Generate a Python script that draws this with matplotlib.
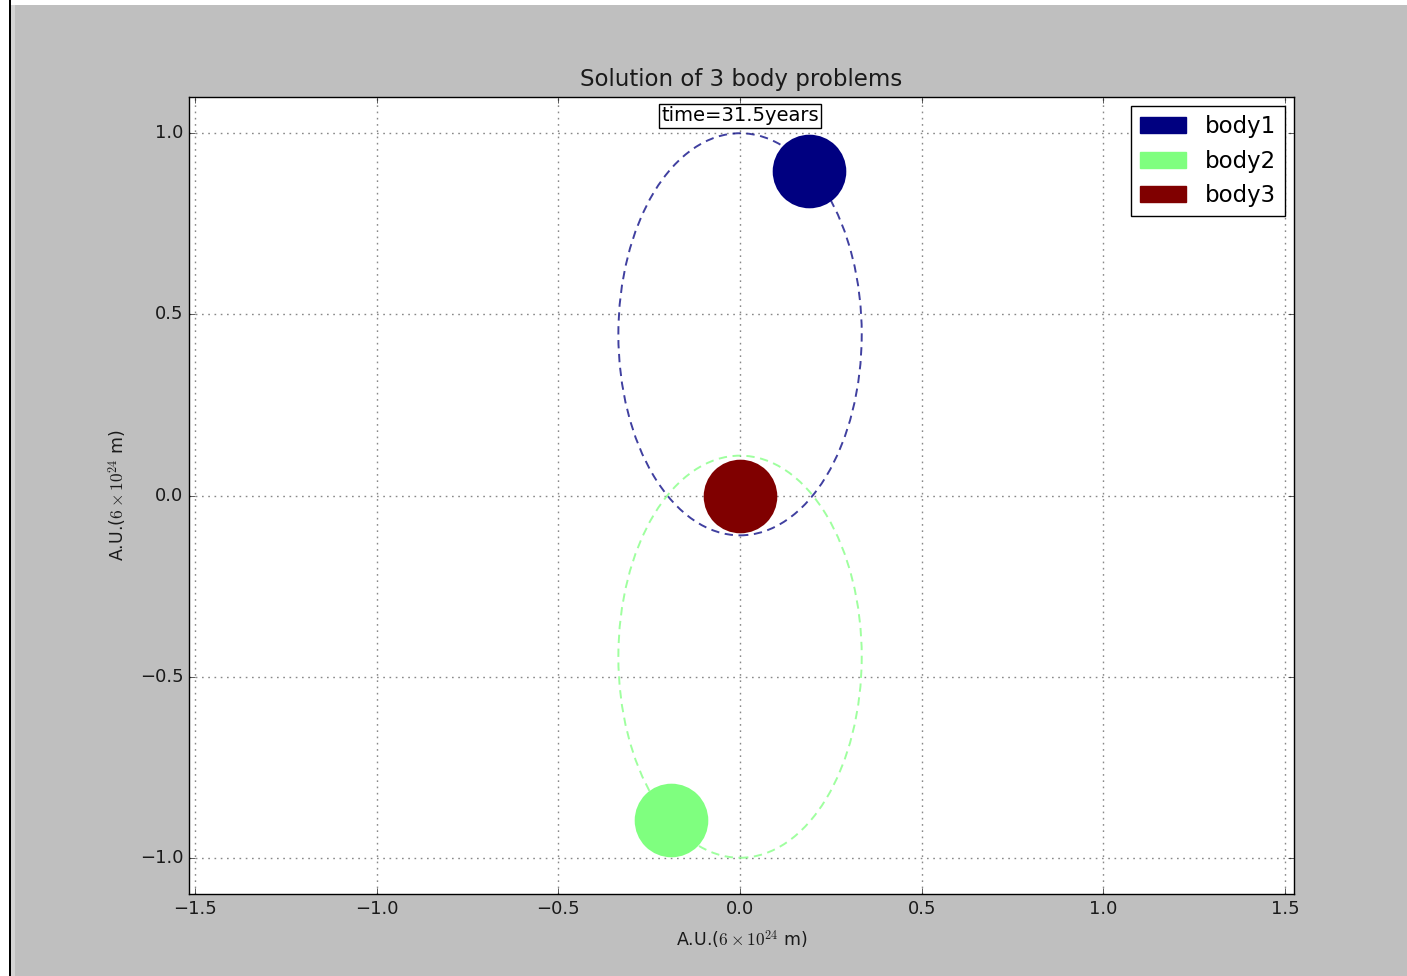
import matplotlib
matplotlib.use("Agg")
import matplotlib.pyplot as plt
from matplotlib.patches import Ellipse, Patch, Rectangle

plt.style.use('classic')
plt.rcParams['mathtext.fontset'] = 'cm'
plt.rcParams['font.family'] = ['DejaVu Sans']

# ---- data ----
bodies = ["body1", "body2", "body3"]
body_colors = ["#000080", "#7fff7f", "#800000"]
body_x = [0.19, -0.19, 0.0]
body_y = [0.895, -0.895, 0.0]
orbit_cx = [0.0, 0.0]
orbit_cy = [0.445, -0.445]
orbit_w = [0.67, 0.67]
orbit_h = [1.11, 1.11]
orbit_colors = ["#000080", "#7fff7f"]
time_years = 31.5
xticks = [-1.5, -1.0, -0.5, 0.0, 0.5, 1.0, 1.5]
yticks = [-1.0, -0.5, 0.0, 0.5, 1.0]

fig = plt.figure(figsize=(14.07, 9.76), dpi=100)
fig.patch.set_facecolor('#bfbfbf')
W, H = 1407, 976
# screenshot frame decorations
fig.patches.append(Rectangle((0, 1 - 5 / H), 1, 5 / H, transform=fig.transFigure, fc='white', ec='none', zorder=-1))
fig.patches.append(Rectangle((0, 0), 9 / W, 1, transform=fig.transFigure, fc='white', ec='none', zorder=-1))
fig.patches.append(Rectangle((9 / W, 0), 2 / W, 1, transform=fig.transFigure, fc='black', ec='none', zorder=-1))
fig.patches.append(Rectangle((11 / W, 0), 4 / W, 1 - 5 / H, transform=fig.transFigure, fc='#d4d4d4', ec='none', zorder=-1))

ax = fig.add_axes([189 / W, 1 - 894 / H, (1294 - 189) / W, (894 - 97) / H])
ax.set_facecolor('white')

for cx, cy, w, h, c in zip(orbit_cx, orbit_cy, orbit_w, orbit_h, orbit_colors):
    ax.add_patch(Ellipse((cx, cy), w, h, fill=False, ec=c, ls=(0, (6, 4)), lw=1.4, alpha=0.75, zorder=2))

for x, y, c in zip(body_x, body_y, body_colors):
    ax.plot([x], [y], 'o', color=c, markersize=53, markeredgecolor=c, markeredgewidth=0, zorder=3)

ax.set_xlim(-1.517, 1.525)
ax.set_ylim(-1.1, 1.1)
ax.set_xticks(xticks)
ax.set_yticks(yticks)
ax.tick_params(labelsize=13, colors='#1a1a1a')
ax.grid(True, color='#888888', linestyle=(0, (1.2, 3.3)), linewidth=1.0)
ax.set_axisbelow(True)

ax.set_title("Solution of 3 body problems", fontsize=16.5, pad=8, color='#1a1a1a')
ax.set_xlabel("A.U.($6\\times10^{24}$ m)", fontsize=12.5, labelpad=8, color='#1a1a1a')
ax.set_ylabel("A.U.($6\\times10^{24}$ m)", fontsize=12.5, labelpad=8, color='#1a1a1a')

ax.text(0.0, 1.048, "time=%.1fyears" % time_years, ha='center', va='center', fontsize=14,
        bbox=dict(fc='white', ec='black', boxstyle='square,pad=0.12'), zorder=5)

handles = [Patch(fc=c, ec=c, label=b) for b, c in zip(bodies, body_colors)]
leg = ax.legend(handles=handles, loc='upper right', fontsize=16.5, borderaxespad=0.4,
                handlelength=2.0, handleheight=0.7, fancybox=False, framealpha=1)
leg.get_frame().set_edgecolor('black')

fig.savefig("out.png", dpi=100, facecolor=fig.get_facecolor())
